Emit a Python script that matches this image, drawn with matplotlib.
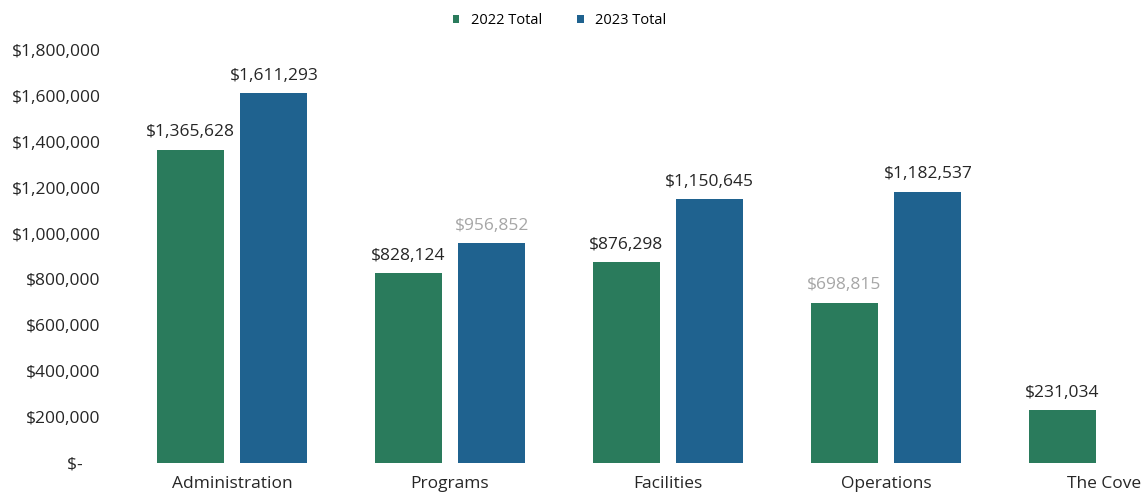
import matplotlib.pyplot as plt
import numpy as np
from matplotlib.ticker import FuncFormatter

plt.rcParams['font.family'] = ['Open Sans', 'DejaVu Sans']

categories = ['Administration', 'Programs', 'Facilities', 'Operations', 'The Cove']
totals_2022 = [1365628, 828124, 876298, 698815, 231034]
totals_2023 = [1611293, 956852, 1150645, 1182537, np.nan]
series_labels = ['2022 Total', '2023 Total']

# some labels print lighter in the source report
label_colors_2022 = ['#262626', '#262626', '#262626', '#a6a6a6', '#262626']
label_colors_2023 = ['#262626', '#a6a6a6', '#262626', '#262626', '#262626']

GREEN = '#2a7b5c'
BLUE = '#1f628f'


def money(v, pos=None):
    if v == 0:
        return '$-    '
    return f'${v:,.0f}'


fig = plt.figure(figsize=(11.42, 5.0), dpi=100)
ax = fig.add_axes([0.1077, 0.074, 0.9545, 0.826])

x = np.arange(len(categories))
w = 0.307
off = 0.192

b1 = ax.bar(x - off, totals_2022, w, color=GREEN, label=series_labels[0])
b2 = ax.bar(x + off, totals_2023, w, color=BLUE, label=series_labels[1])

for bars, vals, cols in [(b1, totals_2022, label_colors_2022), (b2, totals_2023, label_colors_2023)]:
    for bar, v, c in zip(bars, vals, cols):
        if np.isnan(v):
            continue
        ax.text(bar.get_x() + bar.get_width() / 2, v + 40000, money(v),
                ha='center', va='bottom', fontsize=12.5, color=c)

ax.set_xlim(-0.5, len(categories) - 0.5)
ax.set_ylim(0, 1800000)
ax.set_yticks(np.arange(0, 1800001, 200000))
ax.yaxis.set_major_formatter(FuncFormatter(money))
ax.set_xticks(x)
ax.set_xticklabels(categories)

for s in ax.spines.values():
    s.set_visible(False)
ax.tick_params(axis='both', length=0, colors='#262626')
ax.tick_params(axis='x', pad=9, labelsize=12.5)
ax.tick_params(axis='y', pad=16, labelsize=12.5)

fig.legend(loc='upper center', bbox_to_anchor=(0.49, 1.0), ncol=2, frameon=False,
           fontsize=10.5, handlelength=0.45, handleheight=0.45, handletextpad=0.8,
           columnspacing=2.4)

fig.savefig('out.png', dpi=100)
